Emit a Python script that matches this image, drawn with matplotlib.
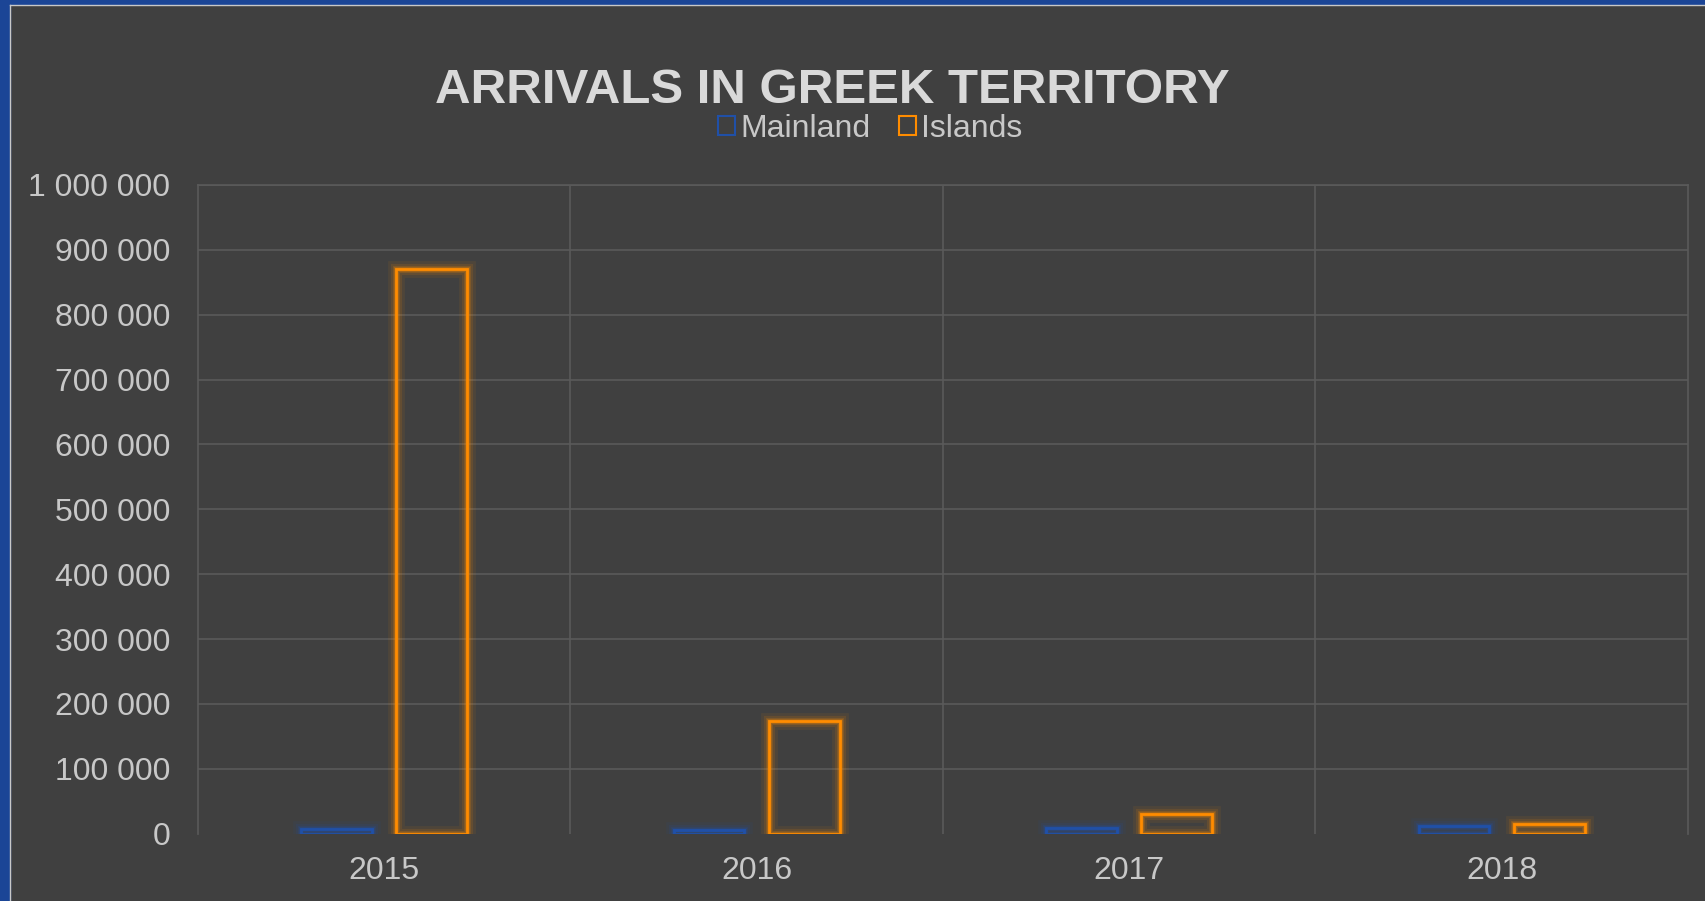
import matplotlib.pyplot as plt
import matplotlib.patches as mpatches
from matplotlib.lines import Line2D
import numpy as np

years = ["2015", "2016", "2017", "2018"]
mainland = [7000, 6000, 8000, 12000]
islands = [870000, 173000, 30000, 15000]
yticks = [0, 100000, 200000, 300000, 400000, 500000, 600000, 700000, 800000, 900000, 1000000]

bg = "#404040"
blue = "#2050A8"
orange = "#FF8C00"
txt = "#C8C8C8"
grid = "#5A5A5A"

plt.rcParams['font.family'] = ['Liberation Sans', 'DejaVu Sans']

fig = plt.figure(figsize=(17.06, 9.01), dpi=100, facecolor=bg)
ax = fig.add_axes([0.116, 0.0748, 0.8734, 0.7199])
ax.set_facecolor(bg)

# frame of the slide
fig.patches.append(mpatches.Rectangle((0, 0), 10 / 1706, 1, transform=fig.transFigure,
                                      color="#1B4596", zorder=0))
fig.patches.append(mpatches.Rectangle((0, 1 - 4 / 901), 1, 4 / 901, transform=fig.transFigure,
                                      color="#1B4596", zorder=0))
fig.lines.append(Line2D([10.5 / 1706, 10.5 / 1706], [0, 1 - 4.5 / 901], transform=fig.transFigure,
                        color="#C8C8C8", lw=1))
fig.lines.append(Line2D([10.5 / 1706, 1], [1 - 4.5 / 901, 1 - 4.5 / 901], transform=fig.transFigure,
                        color="#C8C8C8", lw=1))

x = np.arange(len(years))
w = 0.19
off = 0.128


def glow_bars(xs, vals, color):
    for lw, a in [(12, 0.08), (8, 0.12), (5, 0.18), (3.5, 0.25)]:
        ax.bar(xs, vals, w, facecolor="none", edgecolor=color, linewidth=lw, alpha=a, zorder=3)
    return ax.bar(xs, vals, w, facecolor="none", edgecolor=color, linewidth=2, zorder=4)


glow_bars(x - off, mainland, blue)
glow_bars(x + off, islands, orange)

ax.set_xlim(-0.5, 3.5)
ax.set_ylim(0, 1000000)
ax.set_yticks(yticks)
ax.set_yticklabels([f"{v:,}".replace(",", " ") for v in yticks])
ax.set_xticks(x)
ax.set_xticklabels(years)
ax.tick_params(axis="both", length=0, colors=txt, labelsize=23)
ax.tick_params(axis="y", pad=20)
ax.tick_params(axis="x", pad=16)

for v in yticks[1:]:
    ax.axhline(v, color=grid, lw=1.2, zorder=1)
for b in [0.5, 1.5, 2.5]:
    ax.axvline(b, color=grid, lw=1.2, zorder=1)
for s in ["left", "right", "top"]:
    ax.spines[s].set_color(grid)
    ax.spines[s].set_linewidth(1.2)
ax.spines["bottom"].set_visible(False)

fig.text(0.488, 0.9, "ARRIVALS IN GREEK TERRITORY", ha="center", va="center",
         fontsize=35.5, fontweight="bold", color="#D9D9D9")

handles = [mpatches.Patch(facecolor="none", edgecolor=blue, linewidth=1.5, label="Mainland"),
           mpatches.Patch(facecolor="none", edgecolor=orange, linewidth=1.5, label="Islands")]
fig.legend(handles=handles, loc="center", bbox_to_anchor=(0.51, 0.857), ncol=2, frameon=False,
           fontsize=23, labelcolor=txt, handlelength=0.55, handleheight=0.55, handletextpad=0.15,
           columnspacing=0.9)

fig.savefig("out.png", dpi=100, facecolor=bg)
